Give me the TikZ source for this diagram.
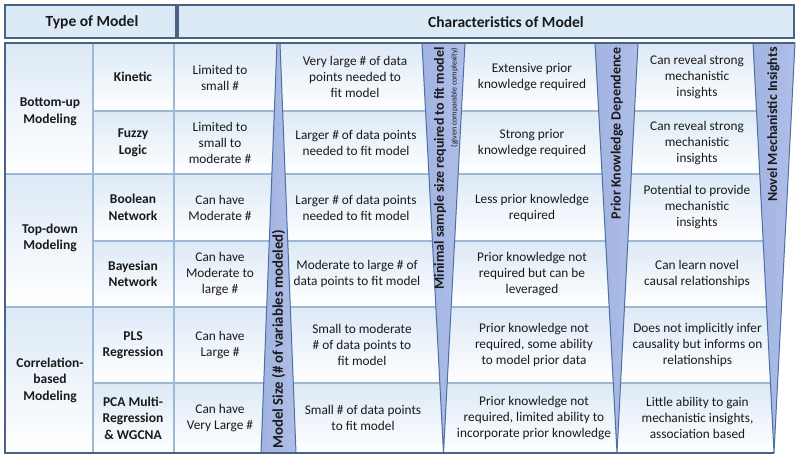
\documentclass[tikz,border=0pt]{standalone}
\usepackage{fontspec}
\setmainfont{Carlito}
\definecolor{hdrfill}{HTML}{DCEAF6}
\definecolor{hdrline}{HTML}{4A6384}
\definecolor{gridline}{HTML}{9DB7D6}
\definecolor{rowtop}{HTML}{DCE9F6}
\definecolor{wedgeL}{HTML}{A1B3E1}
\definecolor{wedgeM}{HTML}{D2DBF3}
\definecolor{wedgeR}{HTML}{B0BFE9}
\definecolor{wedgeline}{HTML}{4D6FA3}
\definecolor{txt}{HTML}{1A1A1A}
\begin{document}
\begin{tikzpicture}[x=1pt,y=-1pt,
  body/.style={font=\fontsize{13.3}{16}\selectfont, align=center, text=txt, inner sep=0pt},
  lbl/.style={font=\bfseries\fontsize{13.5}{16.5}\selectfont, align=center, text=txt, inner sep=0pt},
  hdrtext/.style={font=\bfseries\fontsize{15.5}{18}\selectfont, text=txt, inner sep=0pt},
  wedgetext/.style={font=\bfseries\fontsize{14}{16}\selectfont, text=txt, inner sep=0pt, rotate=90},
  hdrbox/.style={draw=hdrline, line width=2pt, fill=hdrfill},
  outer/.style={draw=hdrline, line width=2pt},
  grid/.style={draw=gridline, line width=1.1pt},
  rowfill/.style={top color=rowtop, bottom color=white},
  wedge/.style={draw=wedgeline, line width=1pt, left color=wedgeL, middle color=wedgeM, right color=wedgeR, line join=round}]
\useasboundingbox (0,0) rectangle (800,460);
\fill[white] (0,0) rectangle (800,460);

% header boxes
\path[hdrbox] (5,5) rectangle (175.5,38.5);
\path[hdrbox] (178,5) rectangle (794,38.5);
\node[hdrtext] (typehdr) at (92,22.5) {Type of Model};
\node[hdrtext] (charhdr) at (506,22.5) {Characteristics of Model};

% table body
\begin{scope}
\clip (5,43) -- (795,43) -- (774,453) -- (5,453) -- cycle;
\foreach \a/\b in {43/111,111/174,174/241,241/307,307/383,383/453}
  \path[rowfill] (93,\a) rectangle (800,\b);
\foreach \a/\b in {43/174,174/307,307/453}
  \path[rowfill] (5,\a) rectangle (93,\b);
\draw[grid] (93,43) -- (93,453);
\draw[grid] (174,43) -- (174,453);
\draw[grid] (5,174) -- (800,174);
\draw[grid] (5,307) -- (800,307);
\foreach \y in {111,241,383}
  \draw[grid] (93,\y) -- (800,\y);
\end{scope}

% wedges
\path[wedge] (277,43) -- (280,43) -- (296,453) -- (261,453) -- cycle;
\path[wedge] (422,43) -- (465,43) -- (443.5,453) -- cycle;
\path[wedge] (595,43) -- (638,43) -- (617,453) -- cycle;
\path[wedge] (753,43) -- (795,43) -- (774,453) -- cycle;

% outer border
\draw[outer] (795,43) -- (5,43) -- (5,453) -- (774,453);

% wedge labels
\node[wedgetext, anchor=west, font=\bfseries\fontsize{14.8}{16}\selectfont] (wsize) at (278.5,449) {Model Size (\# of variables modeled)};
\node[wedgetext, anchor=east] (wsample) at (440,47) {Minimal sample size required to fit model};
\node[wedgetext, anchor=east, font=\fontsize{8}{9}\selectfont] (wsamplesub) at (454.5,47.5) {(given comparable complexity)};
\node[wedgetext, anchor=east] (wprior) at (617,47) {Prior Knowledge Dependence};
\node[wedgetext, anchor=east] (wnovel) at (773.5,47) {Novel Mechanistic Insights};

% group labels
\node[lbl] (g1) at (50,112) {Bottom-up\\Modeling};
\node[lbl] (g2) at (50,238) {Top-down\\Modeling};
\node[lbl] (g3) at (50,380) {Correlation-\\based\\Modeling};

% model names
\node[lbl] (m1) at (133,77) {Kinetic};
\node[lbl] (m2) at (133,143) {Fuzzy\\Logic};
\node[lbl] (m3) at (133,207.5) {Boolean\\Network};
\node[lbl] (m4) at (133,274) {Bayesian\\Network};
\node[lbl] (m5) at (133,345) {PLS\\Regression};
\node[lbl] (m6) at (133,418) {PCA Multi-\\Regression\\\& WGCNA};

% model size column
\node[body] (c1) at (220,78) {Limited to\\small \#};
\node[body] (c2) at (220,143) {Limited to\\small to\\moderate \#};
\node[body] (c3) at (220,207.5) {Can have\\Moderate \#};
\node[body] (c4) at (220,274) {Can have\\Moderate to\\large \#};
\node[body] (c5) at (220,345) {Can have\\Large \#};
\node[body] (c6) at (220,418) {Can have\\Very Large \#};

% sample size column
\node[body] (d1) at (355,77) {Very large \# of data\\points needed to\\fit model};
\node[body] (d2) at (356,143) {Larger \# of data points\\needed to fit model};
\node[body] (d3) at (356,207.5) {Larger \# of data points\\needed to fit model};
\node[body] (d4) at (357,274) {Moderate to large \# of\\data points to fit model};
\node[body] (d5) at (362,345) {Small to moderate\\\# of data points to\\fit model};
\node[body] (d6) at (363,418) {Small \# of data points\\to fit model};

% prior knowledge column
\node[body] (e1) at (532,77) {Extensive prior\\knowledge required};
\node[body] (e2) at (532,143) {Strong prior\\knowledge required};
\node[body] (e3) at (532,207.5) {Less prior knowledge\\required};
\node[body] (e4) at (532,274) {Prior knowledge not\\required but can be\\leveraged};
\node[body] (e5) at (534,345) {Prior knowledge not\\required, some ability\\to model prior data};
\node[body] (e6) at (534,418) {Prior knowledge not\\required, limited ability to\\incorporate prior knowledge};

% insights column
\node[body] (f1) at (697,77) {Can reveal strong\\mechanistic\\insights};
\node[body] (f2) at (697,143) {Can reveal strong\\mechanistic\\insights};
\node[body] (f3) at (697,207.5) {Potential to provide\\mechanistic\\insights};
\node[body] (f4) at (697,274) {Can learn novel\\causal relationships};
\node[body] (f5) at (697.5,345) {Does not implicitly infer\\causality but informs on\\relationships};
\node[body] (f6) at (697.5,418) {Little ability to gain\\mechanistic insights,\\association based};
\end{tikzpicture}
\end{document}
